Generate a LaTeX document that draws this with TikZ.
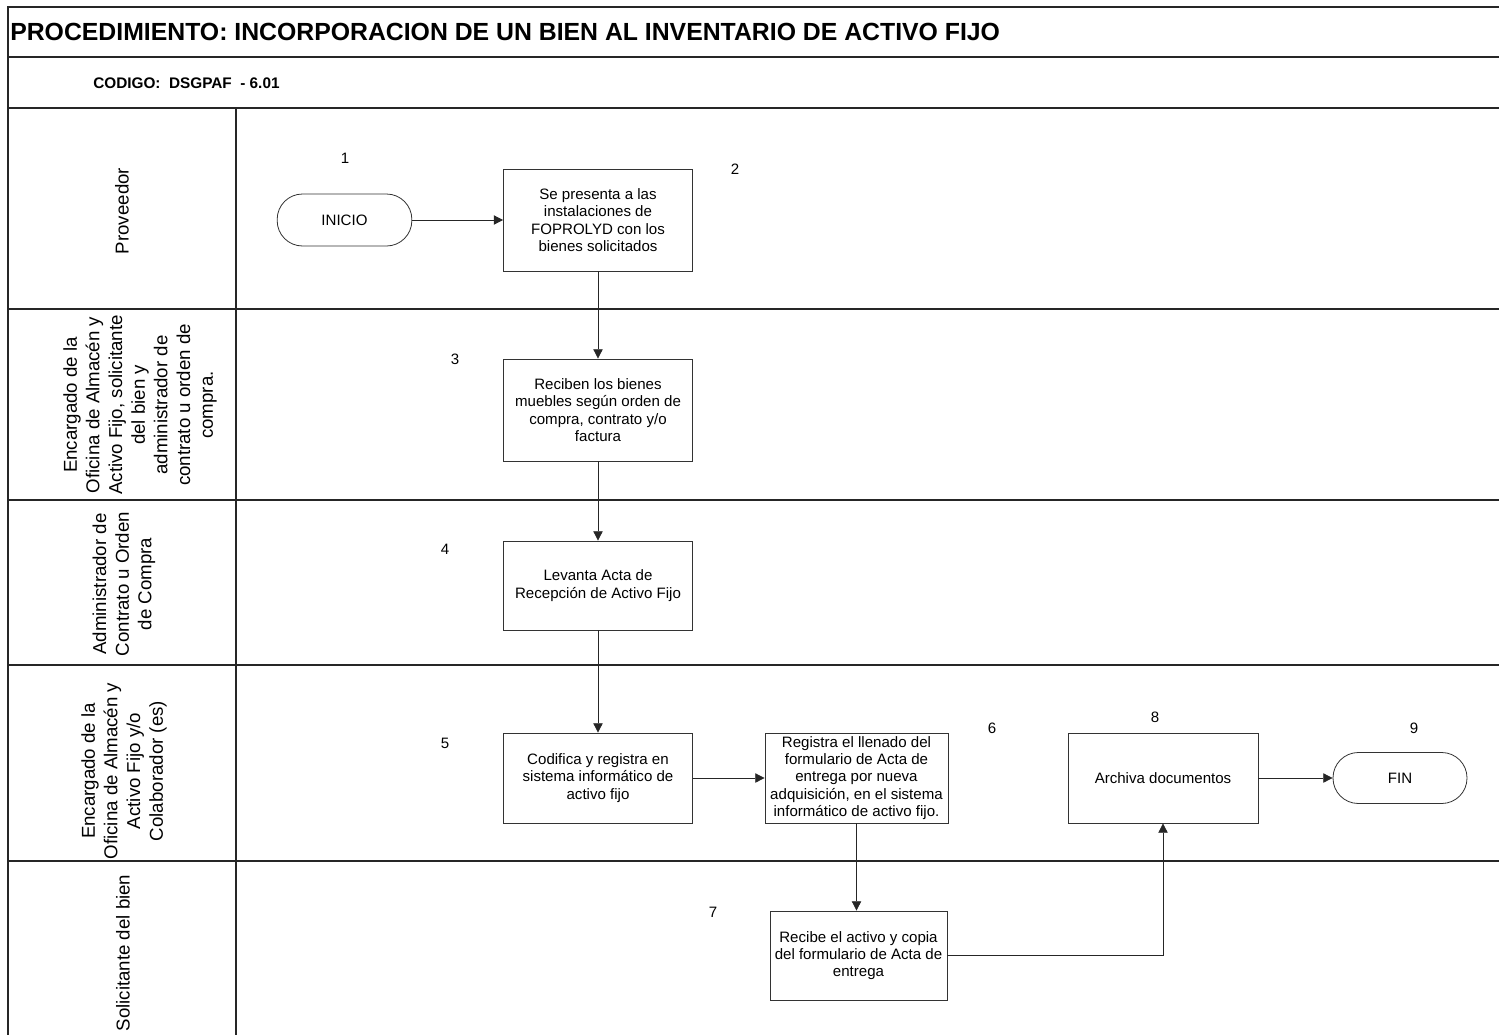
\documentclass[tikz,border=0pt]{standalone}
\usepackage{fontspec}
\setmainfont{Liberation Sans}
\usetikzlibrary{arrows.meta}
\begin{document}
\begin{tikzpicture}[x=0.75pt,y=-0.75pt,
  frame/.style={line width=1.1pt, draw=black!85},
  stepbox/.style={draw=black!80, line width=0.6pt, minimum width=141.75pt,
    minimum height=76.5pt, align=center, inner sep=2pt,
    font=\fontsize{11.3}{13}\selectfont},
  term/.style={draw=black!80, line width=0.6pt, rounded corners=19pt,
    minimum width=101pt, minimum height=39pt, inner sep=2pt,
    font=\fontsize{11.3}{13}\selectfont},
  num/.style={font=\fontsize{11.3}{13}\selectfont, inner sep=0pt},
  lane/.style={rotate=90, align=center, inner sep=0pt,
    font=\fontsize{14}{17}\selectfont},
  flow/.style={draw=black!85, line width=0.6pt,
    -{Triangle[length=7pt,width=7pt]}}
]
\useasboundingbox (0,0) rectangle (1499,1035);

% outer frame, header rows and swimlanes
\draw[frame] (1499,7) -- (8,7) -- (8,1035);
\foreach \yy in {57,108,309,500,665,861}
  \draw[frame] (8,\yy) -- (1499,\yy);
\draw[frame] (236,108) -- (236,1035);

% header
\node[anchor=west, inner sep=0pt, font=\bfseries\fontsize{18.6}{22}\selectfont] (title) at (10,32)
  {PROCEDIMIENTO: INCORPORACION DE UN BIEN AL INVENTARIO DE ACTIVO FIJO};
\node[anchor=west, inner sep=0pt, font=\bfseries\fontsize{11.5}{14}\selectfont] (code) at (93,83)
  {CODIGO:\ \ DSGPAF\ \ - 6.01};

% lane labels
\node[lane] (l1) at (122,211) {Proveedor};
\node[lane] (l2) at (140,405) {Encargado de la\\Oficina de Almacén y\\Activo Fijo, solicitante\\del bien y\\administrador de\\contrato u orden de\\compra.};
\node[lane] (l3) at (124,584) {Administrador de\\Contrato u Orden\\de Compra};
\node[lane] (l4) at (124,771) {Encargado de la\\Oficina de Almacén y\\Activo Fijo y/o\\Colaborador (es)};
\node[lane] (l5) at (123,953) {Solicitante del bien};

% process steps
\node[term] (ini) at (344.5,220) {INICIO};
\node[stepbox] (b2) at (598,220) {Se presenta a las\\instalaciones de\\FOPROLYD con los\\bienes solicitados};
\node[stepbox] (b3) at (598,410) {Reciben los bienes\\muebles según orden de\\compra, contrato y/o\\factura};
\node[stepbox, minimum height=66.75pt] (b4) at (598,585.5) {Levanta Acta de\\Recepción de Activo Fijo};
\node[stepbox, minimum height=67.5pt] (b5) at (598,778) {Codifica y registra en\\sistema informático de\\activo fijo};
\node[stepbox, minimum height=67.5pt, minimum width=137.25pt] (b6) at (856.5,778) {Registra el llenado del\\formulario de Acta de\\entrega por nueva\\adquisición, en el sistema\\informático de activo fijo.};
\node[stepbox, minimum height=66.75pt, minimum width=132.75pt] (b7) at (858.5,955.5) {Recibe el activo y copia\\del formulario de Acta de\\entrega};
\node[stepbox, minimum height=67.5pt, minimum width=142.5pt] (b8) at (1163,778) {Archiva documentos};
\node[term, minimum width=100.5pt, minimum height=38.25pt] (fin) at (1400,778) {FIN};

% step numbers
\node[num] (n1) at (345,158) {1};
\node[num] (n2) at (735,169) {2};
\node[num] (n3) at (455,359) {3};
\node[num] (n4) at (445,549) {4};
\node[num] (n5) at (445,743) {5};
\node[num] (n6) at (992,728) {6};
\node[num] (n7) at (713,912) {7};
\node[num] (n8) at (1155,717) {8};
\node[num] (n9) at (1414,728) {9};

% connectors
\draw[flow] (ini.east) -- (b2.west);
\draw[flow] (b2.south) -- (b3.north);
\draw[flow] (b3.south) -- (b4.north);
\draw[flow] (b4.south) -- (b5.north);
\draw[flow] (b5.east) -- (b6.west);
\draw[flow] (b6.south) -- (b6.south |- b7.north);
\draw[flow] (b7.east) -| (b8.south);
\draw[flow] (b8.east) -- (fin.west);
\end{tikzpicture}
\end{document}
